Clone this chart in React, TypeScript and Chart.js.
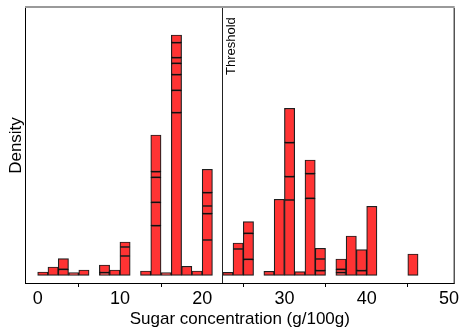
import React, { useEffect, useRef } from "react";
import { Chart, registerables } from "chart.js";

Chart.register(...registerables);

// Histogram bins: start of first bin and bin width (g/100g)
const binStart = 0;
const binWidth = 1.25;
// Stacked segment heights (relative density) for each bin, bottom to top
const binSegments: number[][] = [
  [3.3],
  [8.3],
  [6, 10.6],
  [2.6],
  [5.3],
  [],
  [2.6, 7.7],
  [5.3],
  [19.3, 9, 5],
  [],
  [4.3],
  [49.6, 23.4, 25, 5.6, 36.7],
  [2.6],
  [162.6, 22.4, 15.6, 11.4, 5.6, 15, 7.7],
  [9],
  [4.3],
  [35.3, 26.3, 7.7, 13.3, 23.4],
  [],
  [3],
  [26.3, 6],
  [16, 26, 11.6],
  [],
  [4],
  [76],
  [75.3, 23.3, 34, 34.4],
  [3.6],
  [77, 24.6, 13.7],
  [4.6, 11.7, 10.7],
  [],
  [2.6, 3.4, 10.3],
  [39.3],
  [4.6, 21],
  [69],
  [],
  [],
  [],
  [21.3],
];
const xTicks = [0, 10, 20, 30, 40, 50];
const thresholdValue = 22.4;
const xRange = [-1.54, 50.7];
const yRange = [-7.7, 267.3];

const FONT = "'Liberation Sans', Arial, Helvetica, sans-serif";

function buildDatasets() {
  const maxSeg = Math.max(...binSegments.map((s) => s.length));
  const sets = [];
  for (let k = 0; k < maxSeg; k++) {
    const data: { x: number; y: number }[] = [];
    binSegments.forEach((segs, i) => {
      if (segs[k] != null) {
        data.push({ x: binStart + binWidth * (i + 0.5), y: segs[k] });
      }
    });
    sets.push({
      label: "segment " + (k + 1),
      data,
      backgroundColor: "rgb(255,51,51)",
      borderColor: "rgba(0,0,0,0.88)",
      borderWidth: 1.2,
      borderSkipped: false,
      barPercentage: 1,
      categoryPercentage: 1,
    });
  }
  return sets;
}

const overlayPlugin = {
  id: "overlay",
  afterDatasetsDraw(chart: any) {
    const { ctx, chartArea: a, scales } = chart;
    const x = scales.x;
    ctx.save();
    const line = (x1: number, y1: number, x2: number, y2: number) => {
      ctx.beginPath();
      ctx.moveTo(x1, y1);
      ctx.lineTo(x2, y2);
      ctx.stroke();
    };
    // top gray frame
    ctx.strokeStyle = "#9a9a9a";
    ctx.lineWidth = 2;
    line(a.left, a.top - 1, a.right, a.top - 1);
    // left, right, bottom axis lines
    ctx.strokeStyle = "#000";
    ctx.lineWidth = 1;
    line(a.left + 0.5, a.top, a.left + 0.5, a.bottom + 0.5);
    line(a.right - 0.5, a.top, a.right - 0.5, a.bottom + 0.5);
    line(a.left, a.bottom + 0.5, a.right, a.bottom + 0.5);
    // threshold line
    const tx = Math.round(x.getPixelForValue(thresholdValue)) + 0.5;
    ctx.strokeStyle = "#222";
    line(tx, a.top, tx, a.bottom);
    // threshold label
    ctx.fillStyle = "#000";
    ctx.font = `13px ${FONT}`;
    ctx.textAlign = "left";
    ctx.textBaseline = "alphabetic";
    ctx.save();
    ctx.translate(tx + 12, 75);
    ctx.rotate(-Math.PI / 2);
    ctx.fillText("Threshold", 0, 0);
    ctx.restore();
    // axis titles
    ctx.font = `17px ${FONT}`;
    ctx.textAlign = "center";
    ctx.fillText("Sugar concentration (g/100g)", (a.left + a.right) / 2, 324);
    ctx.save();
    ctx.translate(20.7, (a.top + a.bottom) / 2);
    ctx.rotate(-Math.PI / 2);
    ctx.fillText("Density", 0, 0);
    ctx.restore();
    ctx.restore();
  },
};

export default function App() {
  const ref = useRef<HTMLCanvasElement | null>(null);
  useEffect(() => {
    document.body.style.margin = "0";
    const canvas = ref.current!;
    const chart = new Chart(canvas, {
      type: "bar",
      data: { datasets: buildDatasets() as any },
      options: {
        animation: false,
        responsive: false,
        devicePixelRatio: 1,
        layout: { padding: { left: 25, top: 8, right: 5, bottom: 0 } },
        plugins: { legend: { display: false }, tooltip: { enabled: false } },
        scales: {
          x: {
            type: "linear",
            stacked: true,
            min: xRange[0],
            max: xRange[1],
            offset: false,
            afterBuildTicks: (s: any) => {
              s.ticks = xTicks.map((v) => ({ value: v }));
            },
            afterFit: (s: any) => {
              s.height = 44;
            },
            ticks: {
              color: "#000",
              font: { family: FONT, size: 18 },
              padding: 1,
              maxRotation: 0,
              autoSkip: false,
            },
            grid: {
              display: true,
              drawOnChartArea: false,
              drawTicks: true,
              tickLength: 4,
              tickColor: "#000",
            },
            border: { display: false },
          },
          y: {
            display: false,
            stacked: true,
            min: yRange[0],
            max: yRange[1],
          },
        },
      },
      plugins: [overlayPlugin],
    });
    return () => chart.destroy();
  }, []);
  return (
    <canvas ref={ref} width={460} height={327} style={{ display: "block" }} />
  );
}
